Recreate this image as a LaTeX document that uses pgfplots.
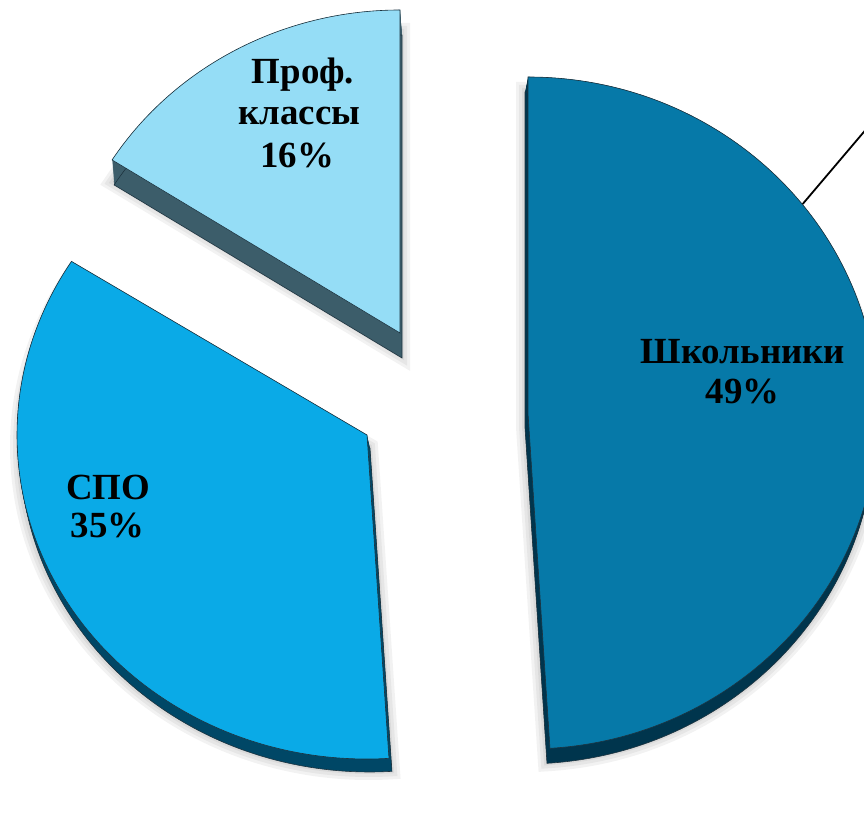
\documentclass[border=0pt]{standalone}
\usepackage{pgfplots}
\pgfplotsset{compat=1.18}
\usepackage{fontspec}
\setmainfont{Liberation Serif}
\definecolor{profTop}{HTML}{95DDF6}
\definecolor{profSide}{HTML}{3C5D6A}
\definecolor{spoTop}{HTML}{0AAAE7}
\definecolor{spoSide}{HTML}{004766}
\definecolor{shkTop}{HTML}{0679A8}
\definecolor{shkSide}{HTML}{00354D}
\definecolor{edgecol}{HTML}{1E3440}
% shares in percent
\def\shareShk{49}
\def\shareSpo{35}
\def\shareProf{16}
\pgfmathsetmacro\aA{90}
\pgfmathsetmacro\aB{\aA-3.6*\shareShk}
\pgfmathsetmacro\aC{\aB-3.6*\shareSpo}
\pgfmathsetmacro\aD{\aC-3.6*\shareProf}
% wedge path: apex x, apex y, start, end, rx, ry
\newcommand\wedgepath[6]{(axis cs:#1,#2) -- (axis cs:{#1+#5*cos(#3)},{#2+#6*sin(#3)}) arc[start angle=#3, end angle=#4, x radius=#5bp, y radius=#6bp] -- cycle}
\begin{document}
\begin{tikzpicture}
\begin{axis}[
  width=864bp, height=813bp, scale only axis,
  xmin=0, xmax=864, ymin=0, ymax=813,
  hide axis, clip=true,
]
% soft shadows
\pgfplotsinvokeforeach{18,12,6}{
  \fill[black, opacity=0.05, line width=#1bp, draw=black, draw opacity=0.05, yshift=-22bp, xshift=1bp] \wedgepath{400}{480}{\aC+360}{90}{341}{323};
  \fill[black, opacity=0.05, line width=#1bp, draw=black, draw opacity=0.05, yshift=-12bp, xshift=2bp] \wedgepath{367}{378}{\aB}{\aC}{350}{324};
  \fill[black, opacity=0.05, line width=#1bp, draw=black, draw opacity=0.05, yshift=-14bp, xshift=-3bp] \wedgepath{528}{400}{\aA}{\aB}{350}{336};
}
% extrusions
\pgfplotsinvokeforeach{0,...,25}{
  \fill[profSide, xshift={#1*0.08bp}, yshift=-#1 bp] \wedgepath{400}{480}{\aC+360}{90}{341}{323};
}
\draw[edgecol, line width=0.6bp, xshift=2bp, yshift=-25bp] \wedgepath{400}{480}{\aC+360}{90}{341}{323};
\pgfplotsinvokeforeach{0,...,13}{
  \fill[spoSide, xshift={#1*0.23bp}, yshift=-#1 bp] \wedgepath{367}{378}{\aB}{\aC}{350}{324};
}
\draw[edgecol, line width=0.6bp, xshift=3bp, yshift=-13bp] \wedgepath{367}{378}{\aB}{\aC}{350}{324};
\pgfplotsinvokeforeach{0,...,15}{
  \fill[shkSide, xshift={-#1*0.2bp}, yshift=-#1 bp] \wedgepath{528}{400}{\aA}{\aB}{350}{336};
}
\draw[edgecol, line width=0.6bp, xshift=-3bp, yshift=-15bp] \wedgepath{528}{400}{\aA}{\aB}{350}{336};
% top faces
\filldraw[fill=profTop, draw=edgecol, line width=0.6bp] \wedgepath{400}{480}{\aC+360}{90}{341}{323};
\filldraw[fill=spoTop, draw=edgecol, line width=0.6bp] \wedgepath{367}{378}{\aB}{\aC}{350}{324};
\filldraw[fill=shkTop, draw=edgecol, line width=0.6bp] \wedgepath{528}{400}{\aA}{\aB}{350}{336};
% leader line
\draw[black, line width=1.8bp] (axis cs:802.7,609) -- (axis cs:870,688.3);
% labels
\begin{scope}[every node/.style={font=\bfseries\fontsize{37}{41}\selectfont, anchor=base, inner sep=0pt}]
\node at (axis cs:303,729.7) {Проф.};
\node at (axis cs:299.3,688) {классы};
\node at (axis cs:297,645) {16\%};
\node at (axis cs:742.8,449.7) {Школьники};
\node at (axis cs:742.5,409.7) {49\%};
\node at (axis cs:108,313) {СПО};
\node at (axis cs:107.5,275) {35\%};
\end{scope}
\end{axis}
\pgfresetboundingbox
\path (0,0) rectangle (864bp,813bp);
\end{tikzpicture}
\end{document}
